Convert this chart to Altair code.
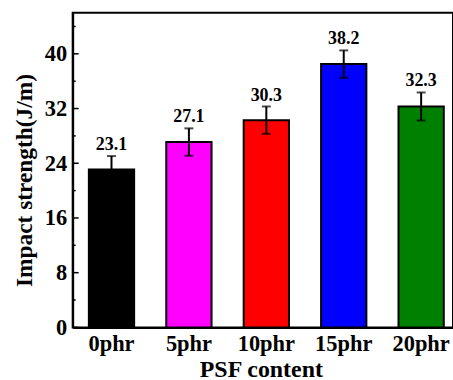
import altair as alt
import pandas as pd

categories = ["0phr", "5phr", "10phr", "15phr", "20phr"]
values = [23.1, 27.1, 30.3, 38.5, 32.3]
errors = [1.95, 2.0, 2.0, 2.0, 2.05]
value_labels = ["23.1", "27.1", "30.3", "38.2", "32.3"]
colors = ["#000000", "#FF00FF", "#FF0000", "#0000FF", "#008000"]
major_ticks = [0, 8, 16, 24, 32, 40]
minor_ticks = [4, 12, 20, 28, 36, 44]

FONT = "Liberation Serif"

df = pd.DataFrame({
    "cat": categories,
    "val": values,
    "lo": [v - e for v, e in zip(values, errors)],
    "hi": [v + e for v, e in zip(values, errors)],
    "lab": value_labels,
})
major_df = pd.DataFrame({"t": major_ticks})
minor_df = pd.DataFrame({"t": minor_ticks})

xscale = alt.Scale(domain=categories, paddingInner=0.415, paddingOuter=0.164, align=0.637)
yscale = alt.Scale(domain=[0, 46], nice=False, zero=True)

x_enc = alt.X("cat:N", scale=xscale, sort=categories, axis=alt.Axis(
    title="PSF content", labelAngle=0, ticks=False, labelPadding=5,
    labelFont=FONT, labelFontSize=22.5, labelFontWeight="bold", labelColor="black",
    titleFont=FONT, titleFontSize=24, titleFontWeight="bold", titleColor="black",
    titleX=189, titleY=49, titleBaseline="alphabetic", titleAlign="center",
    domainColor="black", domainWidth=2))
y_axis = alt.Axis(
    title="Impact strength(J/m)", values=major_ticks, ticks=False, grid=False,
    labelPadding=6, labelFont=FONT, labelFontSize=22.5, labelFontWeight="bold",
    labelColor="black", labelBaseline="middle",
    titleFont=FONT, titleFontSize=23.5, titleFontWeight="bold", titleColor="black",
    titleX=-41, titleY=168, titleAngle=-90, titleAlign="center", titleBaseline="alphabetic",
    domainColor="black", domainWidth=2)

base = alt.Chart(df)

bars = base.mark_bar(stroke="black", strokeWidth=2).encode(
    x=x_enc,
    y=alt.Y("val:Q", scale=yscale, axis=y_axis),
    color=alt.Color("cat:N", scale=alt.Scale(domain=categories, range=colors), legend=None),
)
err = base.mark_rule(color="black", strokeWidth=2).encode(
    x=alt.X("cat:N", sort=categories), y="lo:Q", y2="hi:Q")
cap_hi = base.mark_tick(color="black", thickness=2, size=9).encode(
    x=alt.X("cat:N", sort=categories), y="hi:Q")
cap_lo = base.mark_tick(color="black", thickness=2, size=9).encode(
    x=alt.X("cat:N", sort=categories), y="lo:Q")
texts = base.mark_text(font=FONT, fontSize=18, fontWeight="bold", color="black",
                       baseline="alphabetic", dy=-6).encode(
    x=alt.X("cat:N", sort=categories), y="hi:Q", text="lab:N")
maj = alt.Chart(major_df).mark_rule(color="black", strokeWidth=1.5).encode(
    y="t:Q", x=alt.value(0), x2=alt.value(6))
mino = alt.Chart(minor_df).mark_rule(color="black", strokeWidth=1.5).encode(
    y="t:Q", x=alt.value(0), x2=alt.value(3))

chart = alt.layer(bars, err, cap_hi, cap_lo, texts, maj, mino).properties(
    width=382, height=316,
    autosize=alt.AutoSizeParams(type="none"),
    padding={"left": 73, "top": 12, "right": 0, "bottom": 52},
    background="white",
).configure_view(stroke="black", strokeWidth=2)

chart.save("out.html", embed_options={"renderer": "svg", "actions": False})
